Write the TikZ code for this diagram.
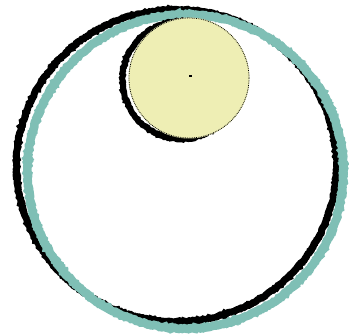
\documentclass[tikz,border=0pt]{standalone}
\usetikzlibrary{decorations.pathmorphing}
\definecolor{tealring}{RGB}{127,191,181}
\definecolor{paleyellow}{RGB}{238,238,180}
\tikzset{
  rough/.style={decorate,decoration={random steps,segment length=1.5pt,amplitude=0.7pt}},
  outerblack/.style={draw=black,line width=7pt,rough},
  outerteal/.style={draw=tealring,line width=8.5pt,rough},
  sunshadow/.style={draw=black,line width=6pt,rough},
  sunfill/.style={fill=paleyellow},
}
\begin{document}
\begin{tikzpicture}[x=1pt,y=-1pt]
\useasboundingbox (0,0) rectangle (349,334);
% big ring: black sketch stroke under the teal stroke
\draw[outerblack] (176.5,165.5) ellipse [x radius=160,y radius=156];
\draw[outerteal] (185.5,171.5) ellipse [x radius=158,y radius=157];
% small yellow disc with black shadow
\draw[sunshadow] (181.5,80) circle [radius=59];
\fill[sunfill] (189,78) circle [radius=60.5];
\draw[black,densely dotted,line width=0.8pt] (189,78) circle [radius=60];
\node[fill=black,inner sep=0pt,minimum width=3pt,minimum height=1.5pt] (centre) at (190,76) {};
\end{tikzpicture}
\end{document}
